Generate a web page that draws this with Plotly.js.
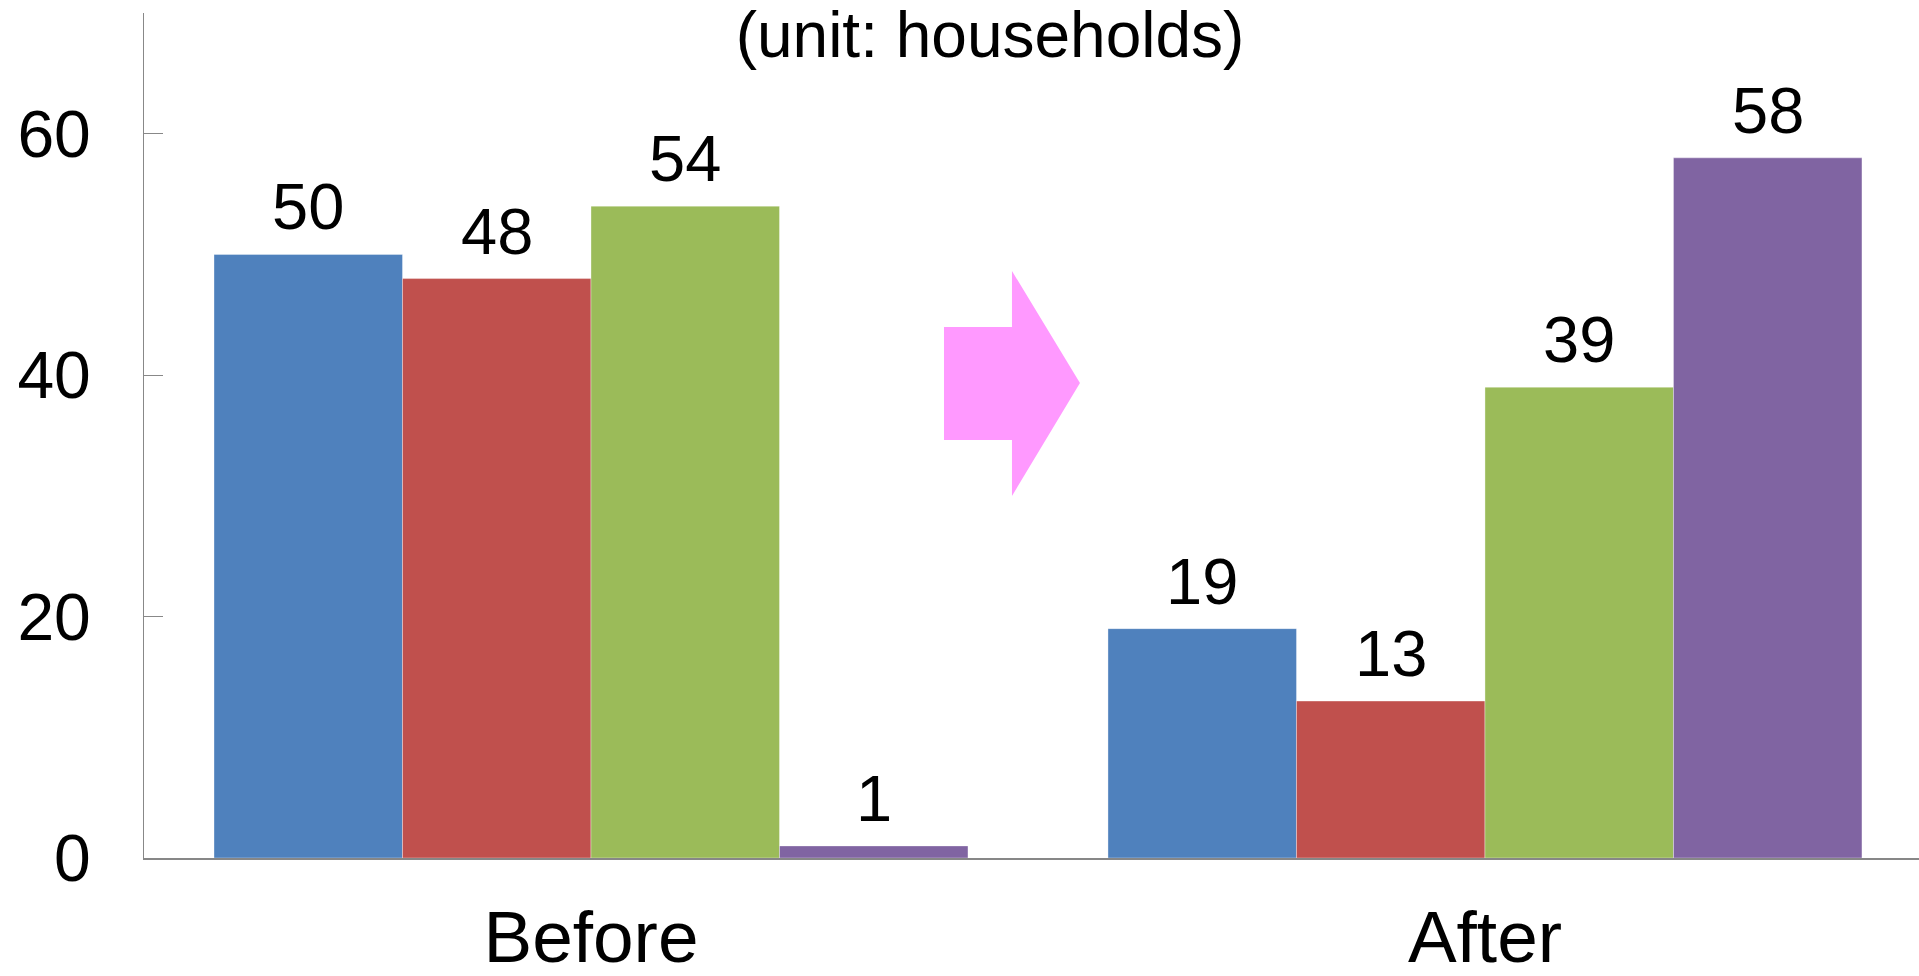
<!DOCTYPE html>
<html>
<head>
<meta charset="utf-8">
<script src="https://cdn.plot.ly/plotly-3.0.1.min.js"></script>
<style>
html,body{margin:0;padding:0;background:#fff;overflow:hidden;}
#chart{width:1919px;height:976px;}
</style>
</head>
<body>
<div id="chart"></div>
<script>
// ---- data ----
var categories = ["Before", "After"];
var seriesNames = ["Series 1", "Series 2", "Series 3", "Series 4"];
var series1 = [50, 19];
var series2 = [48, 13];
var series3 = [54, 39];
var series4 = [1, 58];
var seriesColors = ["#4F81BD", "#C0504D", "#9BBB59", "#8064A2"];
var yTickVals = [0, 20, 40, 60];
var unitLabel = "(unit: households)";

var allSeries = [series1, series2, series3, series4];
var FONT = '"Liberation Sans", Arial, Helvetica, sans-serif';
var BARGAP = 0.1566;

var traces = allSeries.map(function (vals, i) {
  return {
    type: "bar",
    name: seriesNames[i],
    x: categories,
    y: vals,
    marker: {color: seriesColors[i], line: {color: "rgba(255,255,255,0.35)", width: 1}},
    hoverinfo: "x+y"
  };
});

// value labels placed above each bar, positioned via the axes' own scales
var nS = allSeries.length;
var barW = (1 - BARGAP) / nS;
var labels = [];
allSeries.forEach(function (vals, i) {
  vals.forEach(function (v, c) {
    labels.push({
      xref: "x", yref: "y",
      x: c + (i - (nS - 1) / 2) * barW,
      y: v,
      text: String(v),
      showarrow: false,
      xanchor: "center",
      yanchor: "bottom",
      yshift: 9,
      font: {family: FONT, size: 65, color: "#000000"}
    });
  });
});

var layout = {
  width: 1919,
  height: 976,
  margin: {l: 144, r: 0, t: 13, b: 118, pad: 0},
  paper_bgcolor: "#ffffff",
  plot_bgcolor: "#ffffff",
  showlegend: false,
  barmode: "group",
  bargap: BARGAP,
  bargroupgap: 0,
  font: {family: FONT, color: "#000000"},
  title: {
    text: unitLabel,
    font: {family: FONT, size: 64, color: "#000000"},
    xref: "container",
    x: 990 / 1919,
    xanchor: "center",
    yref: "container",
    y: 1 - 12 / 976,
    yanchor: "top",
    pad: {t: 0, b: 0, l: 0, r: 0}
  },
  xaxis: {
    type: "category",
    range: [-0.5, 1.4855],
    showline: true,
    linecolor: "#878787",
    linewidth: 2,
    showgrid: false,
    zeroline: false,
    ticks: "",
    tickfont: {family: FONT, size: 73, color: "#000000"},
    ticklabelstandoff: 14,
    fixedrange: true
  },
  yaxis: {
    range: [0, 70],
    showline: true,
    linecolor: "#888888",
    linewidth: 1,
    showgrid: false,
    zeroline: false,
    ticks: "inside",
    ticklen: 19,
    tickwidth: 1,
    tickcolor: "#888888",
    tickvals: yTickVals,
    ticktext: yTickVals.map(String),
    tickfont: {family: FONT, size: 66, color: "#000000"},
    ticklabelstandoff: 39,
    fixedrange: true
  },
  annotations: labels,
  shapes: [{
    type: "path",
    xref: "paper",
    yref: "paper",
    path: "M 0.4507,0.6284 L 0.4890,0.6284 L 0.4890,0.6947 L 0.5273,0.5621 L 0.4890,0.4284 L 0.4890,0.4947 L 0.4507,0.4947 Z",
    fillcolor: "#FF99FF",
    line: {width: 0},
    layer: "above"
  }]
};

Plotly.newPlot("chart", traces, layout, {displayModeBar: false, staticPlot: true});
</script>
</body>
</html>
